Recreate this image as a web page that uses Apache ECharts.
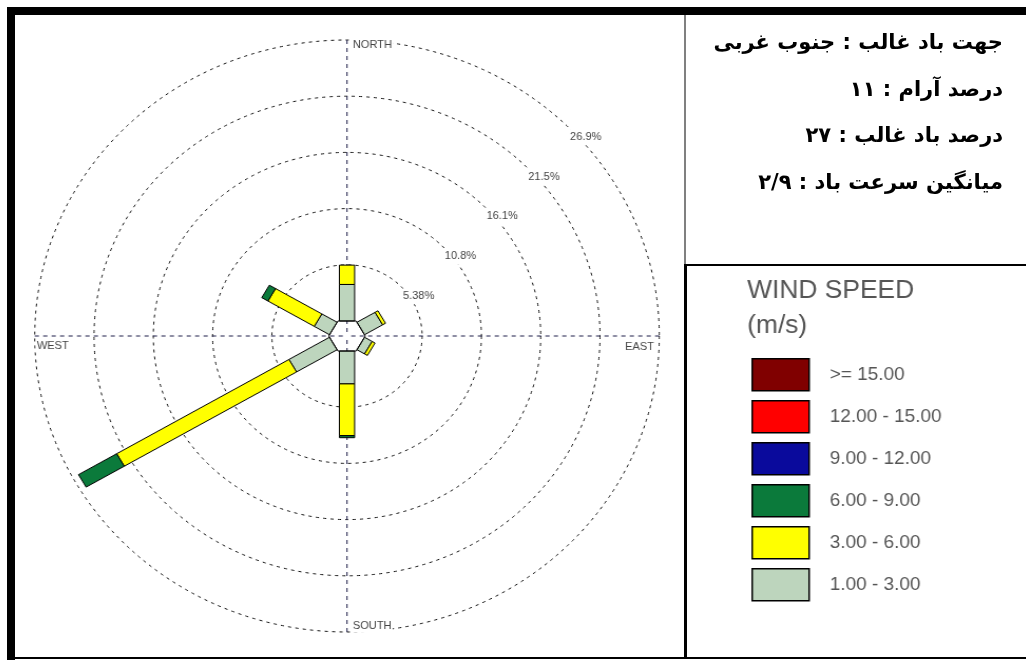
<!DOCTYPE html>
<html>
<head>
<meta charset="utf-8">
<script src="https://cdn.jsdelivr.net/npm/echarts@6/dist/echarts.min.js"></script>
<style>
  html, body { margin: 0; padding: 0; background: #fff; }
  body { width: 1026px; height: 660px; position: relative; overflow: hidden; }
  .rule { position: absolute; background: #000; }
  #rose { position: absolute; left: 15px; top: 15px; width: 958px; height: 643px;
          transform: scaleX(1.055); transform-origin: 0 0; }
  #notes { position: absolute; right: 23px; top: 19px; direction: rtl; text-align: right;
           font-family: "DejaVu Sans", sans-serif; font-weight: bold; font-size: 21px; color: #000; }
  #notes div { height: 46.5px; line-height: 46.5px; white-space: nowrap; }
</style>
</head>
<body>
<div id="rose"></div>
<div class="rule" style="left:7px;top:7px;width:1019px;height:8px"></div>
<div class="rule" style="left:7px;top:7px;width:8px;height:653px"></div>
<div class="rule" style="left:15px;top:657px;width:1011px;height:2px"></div>
<div class="rule" style="left:684px;top:15px;width:2px;height:250px;background:#808080"></div>
<div class="rule" style="left:684px;top:264px;width:3px;height:394px"></div>
<div class="rule" style="left:684px;top:264px;width:342px;height:2px"></div>
<div id="notes"></div>
<script>
// Wind directions (bearing, degrees clockwise from north)
const directions = [0, 60, 120, 180, 240, 300];

// Speed classes (m/s), lowest first
const speedBins = ['1.00 - 3.00', '3.00 - 6.00', '6.00 - 9.00', '9.00 - 12.00', '12.00 - 15.00', '>= 15.00'];
const binColors = ['#bdd5bd', '#ffff00', '#0b7a3b', '#0a0a9c', '#ff0000', '#800000'];

// Frequency (%) per direction for each speed class
const freq_1_3   = [3.5, 1.9, 0.8, 3.15, 4.25, 1.6];
const freq_3_6   = [1.85, 0.3, 0.3, 4.95, 18.05, 4.85];
const freq_6_9   = [0, 0, 0, 0.2, 4.0, 0.65];
const freq_9_12  = [0, 0, 0, 0, 0, 0];
const freq_12_15 = [0, 0, 0, 0, 0, 0];
const freq_15_up = [0, 0, 0, 0, 0, 0];
const binFreqs = [freq_1_3, freq_3_6, freq_6_9, freq_9_12, freq_12_15, freq_15_up];

// Rings
const ringStep = 5.38;
const ringMax = 26.9;
const ringLabels = ['5.38%', '10.8%', '16.1%', '21.5%', '26.9%'];
const compassNames = ['NORTH', 'EAST', 'SOUTH', 'WEST'];

// Summary notes
const noteLines = [
  'جهت باد غالب : جنوب غربی',
  'درصد آرام : ۱۱',
  'درصد باد غالب : ۲۷',
  'میانگین سرعت باد : ۲/۹'
];

document.getElementById('notes').innerHTML = noteLines.map(t => '<div>' + t + '</div>').join('');

// Layout of the rose (chart-local pixels)
const CX = 314.7, CY = 321, R = 296;
const HOLE_PX = 15;                                  // apothem of the calm hexagon
const HOLE = HOLE_PX * ringMax / (R - HOLE_PX);      // same distance in % units
const ringInner = R * (HOLE + ringStep) / (HOLE + ringMax);
const BAR_HALF = 7.2;                                // half width of a petal, px
const LABEL_BEARING = 44.8;

// Stacked segments [start, bearing, end] for every speed class
const segments = binFreqs.map(vals => []);
directions.forEach((dir, j) => {
  let acc = 0;
  binFreqs.forEach((vals, i) => {
    const v = vals[j];
    if (v > 0) segments[i].push([acc, dir, acc + v]);
    acc += v;
  });
});

function frame(api, bearing) {
  const c = api.coord([-HOLE, bearing]);
  const far = api.coord([ringMax, bearing]);
  const len = Math.hypot(far[0] - c[0], far[1] - c[1]);
  const ux = (far[0] - c[0]) / len, uy = (far[1] - c[1]) / len;
  return { ux, uy, nx: -uy, ny: ux };
}

function renderPetal(params, api) {
  const r1 = api.value(0), a = api.value(1), r2 = api.value(2);
  if (!(r2 > r1)) return null;
  const f = frame(api, a);
  const p1 = api.coord([r1, a]), p2 = api.coord([r2, a]);
  const h = BAR_HALF;
  return {
    type: 'polygon',
    shape: { points: [
      [p1[0] + f.nx * h, p1[1] + f.ny * h],
      [p2[0] + f.nx * h, p2[1] + f.ny * h],
      [p2[0] - f.nx * h, p2[1] - f.ny * h],
      [p1[0] - f.nx * h, p1[1] - f.ny * h]
    ] },
    style: { fill: api.visual('color'), stroke: '#000', lineWidth: 1 }
  };
}

function renderHexEdge(params, api) {
  const a = api.value(1);
  const f = frame(api, a);
  const b = api.coord([0, a]);
  const c = api.coord([-HOLE, a]);
  const h = Math.hypot(b[0] - c[0], b[1] - c[1]) * Math.tan(Math.PI / directions.length);
  return {
    type: 'polyline',
    shape: { points: [[b[0] + f.nx * h, b[1] + f.ny * h], [b[0] - f.nx * h, b[1] - f.ny * h]] },
    style: { stroke: '#000', lineWidth: 1, fill: null }
  };
}

const dashRing = { color: '#111', width: 1, type: [3, 4] };
const dashAxis = { color: '#1d1d48', width: 1, type: [4, 4] };
const smallFont = { fontFamily: 'Liberation Sans, Arial, sans-serif', fontSize: 10.5, fill: '#444' };

const compassPos = {
  NORTH: { x: CX + 4.5, y: CY - R + 5, align: 'left' },
  EAST:  { x: CX + R - 4, y: CY + 11, align: 'right' },
  SOUTH: { x: CX + 4.5, y: CY + R - 6, align: 'left' },
  WEST:  { x: CX - R + 1, y: CY + 10, align: 'left' }
};

const series = speedBins.map((name, i) => ({
  name,
  type: 'custom',
  coordinateSystem: 'polar',
  polarIndex: 0,
  encode: { radius: 0, angle: 1 },
  itemStyle: { color: binColors[i] },
  renderItem: renderPetal,
  data: segments[i],
  z: 3
}));
series.push({
  name: 'calm',
  type: 'custom',
  coordinateSystem: 'polar',
  polarIndex: 0,
  encode: { radius: 0, angle: 1 },
  renderItem: renderHexEdge,
  data: directions.map(d => [0, d, 0]),
  z: 4,
  silent: true
});

const chart = echarts.init(document.getElementById('rose'), null, { renderer: 'canvas' });
chart.setOption({
  animation: false,
  backgroundColor: 'transparent',
  title: {
    text: 'WIND SPEED\n(m/s)',
    left: 689, top: 254,
    textStyle: { fontFamily: 'Liberation Sans, Arial, sans-serif', fontSize: 25, fontWeight: 'normal',
                 color: '#555', lineHeight: 35 }
  },
  legend: {
    orient: 'vertical',
    left: 693, top: 338,
    itemWidth: 54, itemHeight: 32, itemGap: 8.5,
    icon: 'rect',
    selectedMode: false,
    data: speedBins.slice().reverse(),
    itemStyle: { borderColor: '#000', borderWidth: 1.5 },
    textStyle: { fontFamily: 'Liberation Sans, Arial, sans-serif', fontSize: 18, color: '#555',
                 padding: [0, 0, 0, 14.5] }
  },
  polar: [
    { center: [CX, CY], radius: [0, R] },
    { center: [CX, CY], radius: [ringInner, R] }
  ],
  angleAxis: [
    { polarIndex: 0, type: 'value', min: 0, max: 360, interval: 90, startAngle: 90, clockwise: true,
      axisLine: { show: false }, axisTick: { show: false }, axisLabel: { show: false },
      splitLine: { show: true, lineStyle: dashAxis } },
    { polarIndex: 1, type: 'value', min: 0, max: 360, startAngle: 90 - LABEL_BEARING, show: false }
  ],
  radiusAxis: [
    { polarIndex: 0, type: 'value', min: -HOLE, max: ringMax, show: false },
    { polarIndex: 1, type: 'value', min: ringStep, max: ringMax, interval: ringStep,
      axisLine: { show: false }, axisTick: { show: false },
      axisLabel: { show: true, margin: -4, align: 'left', verticalAlign: 'top', lineHeight: 16,
                   showMinLabel: true, showMaxLabel: true,
                   formatter: (v) => ringLabels[Math.round(v / ringStep) - 1] || '',
                   fontFamily: 'Liberation Sans, Arial, sans-serif', fontSize: 10.5, color: '#444',
                   backgroundColor: '#fff' },
      splitLine: { show: true, lineStyle: dashRing } }
  ],
  graphic: compassNames.map(n => ({
    type: 'text', z: 10,
    x: compassPos[n].x, y: compassPos[n].y,
    style: Object.assign({ text: n, align: compassPos[n].align, verticalAlign: 'middle',
                           backgroundColor: '#fff', padding: [1, 1] }, smallFont)
  })),
  series
});
</script>
</body>
</html>
